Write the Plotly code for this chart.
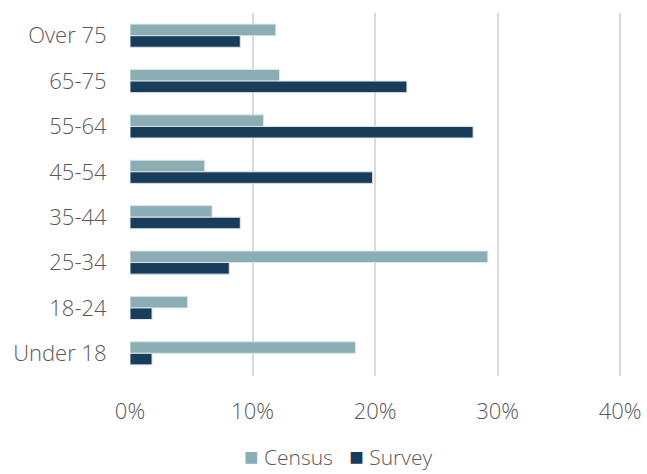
import plotly.graph_objects as go

# age groups, top to bottom as shown
age_groups = ["Over 75", "65-75", "55-64", "45-54", "35-44", "25-34", "18-24", "Under 18"]
census_pct = [11.9, 12.2, 10.9, 6.1, 6.7, 29.2, 4.7, 18.4]
survey_pct = [9.0, 22.6, 28.0, 19.8, 9.0, 8.1, 1.8, 1.8]
x_ticks = [0, 10, 20, 30, 40]
x_tick_labels = ["0%", "10%", "20%", "30%", "40%"]

CENSUS_COLOR = "#8AAEB3"
SURVEY_COLOR = "#183D5B"

fig = go.Figure()

fig.add_trace(go.Bar(
    y=age_groups, x=census_pct, name="Census", orientation="h",
    marker=dict(color=CENSUS_COLOR, line=dict(color="#DDE6E8", width=1)),
))
fig.add_trace(go.Bar(
    y=age_groups, x=survey_pct, name="Survey", orientation="h",
    marker=dict(color=SURVEY_COLOR, line=dict(color="#DDE6E8", width=1)),
))

fig.update_layout(
    width=647, height=474,
    margin=dict(l=130, r=25, t=13, b=98),
    barmode="group", bargap=0.49, bargroupgap=0,
    plot_bgcolor="white", paper_bgcolor="white",
    font=dict(family="Open Sans", size=22, color="#595959", weight=300),
    showlegend=False,
    xaxis=dict(
        range=[0, 40.15], tickvals=x_ticks, ticktext=x_tick_labels,
        showgrid=True, gridcolor="#D9D9D9", gridwidth=2,
        zeroline=False, showline=False,
        ticks="outside", ticklen=16, tickcolor="white", automargin=False,
    ),
    yaxis=dict(
        autorange="reversed", showgrid=False, zeroline=False,
        showline=False, ticks="outside", ticklen=18, tickcolor="white",
        automargin=False,
    ),
)

# legend drawn as centred text with coloured squares
sq = "<span style='color:{};font-size:24px'>■</span>"
fig.add_annotation(
    text=sq.format(CENSUS_COLOR) + " Census   " + sq.format(SURVEY_COLOR) + " Survey",
    xref="paper", yref="paper", x=0.423, y=-0.218,
    xanchor="center", yanchor="middle", showarrow=False,
    font=dict(size=21, color="#595959"),
)

# drop the default 8px body margin so the figure fills the window
fig.write_html("out.html", config={"displayModeBar": False},
               post_script="document.body.style.margin='0';")
